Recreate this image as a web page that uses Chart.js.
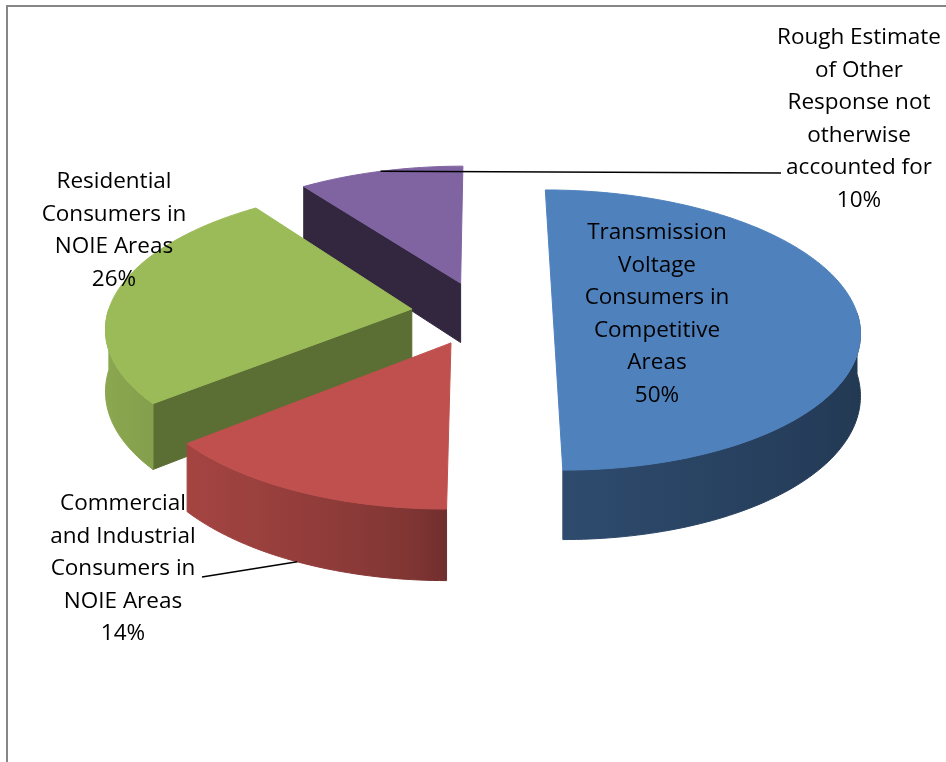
<!DOCTYPE html>
<html>
<head>
<meta charset="utf-8">
<title>Demand response by customer group</title>
<script src="https://cdn.jsdelivr.net/npm/chart.js@4.4.0/dist/chart.umd.min.js"></script>
<style>
    html, body { margin: 0; padding: 0; background: #ffffff; }
    #wrap { width: 946px; height: 762px; }
</style>
</head>
<body>
<div id="wrap"><canvas id="pie" width="946" height="762"></canvas></div>
<script>
'use strict';

// Slices, in drawing order (clockwise from 12 o'clock)
const categories = [
    ['Transmission', 'Voltage', 'Consumers in', 'Competitive', 'Areas'],
    ['Commercial', 'and Industrial', 'Consumers in', 'NOIE Areas'],
    ['Residential', 'Consumers in', 'NOIE Areas'],
    ['Rough Estimate', 'of Other', 'Response not', 'otherwise', 'accounted for']
];
const shares = [50, 14, 26, 10];

// Office 2007 palette
const sliceColors = ['#4F81BD', '#C0504D', '#9BBB59', '#8064A2'];

// label block anchors (centre of first line) and leader line ends
const labelAnchors = [[657, 233], [123, 504], [114, 182], [859, 38]];
const leaderEnds = [null, [202, 577], null, [781, 173]];

const FONT = '22.5px "Open Sans", Lato, sans-serif';
const LINE_H = 32.5;

// 3d look of the pie
const PERSP = 0.0004;   // perspective strength
const TILT = 0.454;     // how flat the disc looks
const DEPTH = 61;       // thickness in px

function project(cx, cy, X, Z, h) {
    const s = 1 / (1 - PERSP * Z);
    return [cx + X * s, cy + (Z * TILT + h * DEPTH) * s];
}

function shade(hex, f) {
    const n = parseInt(hex.slice(1), 16);
    const c = [(n >> 16) & 255, (n >> 8) & 255, n & 255].map(v => Math.round(Math.min(255, v * f)));
    return 'rgb(' + c.join(',') + ')';
}

function sliceGeom(arc, i) {
    const mid = (arc.startAngle + arc.endAngle) / 2;
    const e = arc.options.offset || 0;
    return {
        index: i,
        cx: arc.x, cy: arc.y, r: arc.outerRadius,
        a0: arc.startAngle, a1: arc.endAngle, mid: mid,
        ex: e * Math.cos(mid), ez: e * Math.sin(mid),
        color: arc.options.backgroundColor
    };
}

// point of a slice at angle a, radius fraction t, top (h=0) or bottom (h=1)
function pt(s, a, t, h) {
    const X = s.ex + t * s.r * Math.cos(a);
    const Z = s.ez + t * s.r * Math.sin(a);
    return project(s.cx, s.cy, X, Z, h);
}

function fillPoly(ctx, pts, style) {
    ctx.beginPath();
    pts.forEach((p, k) => k ? ctx.lineTo(p[0], p[1]) : ctx.moveTo(p[0], p[1]));
    ctx.closePath();
    ctx.fillStyle = style;
    ctx.strokeStyle = style;
    ctx.lineWidth = 1;
    ctx.fill();
    ctx.stroke();
}

// brightness of the curved side, lit from the left
function outerLight(a) {
    const nx = Math.cos(a);
    return nx >= 0 ? 0.58 - 0.14 * nx : 0.58 + 0.32 * Math.pow(-nx, 0.6);
}

function drawSlice(ctx, s) {
    const steps = Math.max(8, Math.ceil((s.a1 - s.a0) / 0.02));

    // flat cut faces
    const cut = (a, nx) => {
        fillPoly(ctx, [pt(s, a, 0, 0), pt(s, a, 1, 0), pt(s, a, 1, 1), pt(s, a, 0, 1)],
            shade(s.color, 0.5 + 0.14 * nx));
    };
    if (Math.cos(s.a0) < -0.01) cut(s.a0, Math.sin(s.a0));
    if (Math.cos(s.a1) > 0.01) cut(s.a1, -Math.sin(s.a1));

    // curved side, only the half facing us
    const lo = Math.max(s.a0, 0), hi = Math.min(s.a1, Math.PI);
    if (hi > lo) {
        const n = Math.max(6, Math.ceil((hi - lo) / 0.02));
        const top = [], bot = [];
        for (let k = 0; k <= n; k++) {
            const a = lo + (hi - lo) * k / n;
            top.push(pt(s, a, 1, 0));
            bot.push(pt(s, a, 1, 1));
        }
        const xs = top.map(p => p[0]);
        const x0 = Math.min(...xs), x1 = Math.max(...xs);
        const grad = ctx.createLinearGradient(x0, 0, x1, 0);
        for (let k = 0; k <= n; k += 3) {
            const a = lo + (hi - lo) * k / n;
            grad.addColorStop((top[k][0] - x0) / (x1 - x0 || 1), shade(s.color, outerLight(a)));
        }
        fillPoly(ctx, top.concat(bot.reverse()), grad);
    }

    // top face
    const face = [pt(s, s.a0, 0, 0)];
    for (let k = 0; k <= steps; k++) {
        face.push(pt(s, s.a0 + (s.a1 - s.a0) * k / steps, 1, 0));
    }
    fillPoly(ctx, face, s.color);
}

const pie3d = {
    id: 'pie3d',
    beforeDraw(chart) {
        // chart frame
        const ctx = chart.ctx;
        ctx.save();
        ctx.strokeStyle = '#878787';
        ctx.lineWidth = 2;
        ctx.beginPath();
        ctx.moveTo(7, chart.height);
        ctx.lineTo(7, 6);
        ctx.lineTo(chart.width, 6);
        ctx.stroke();
        ctx.restore();
    },
    beforeDatasetsDraw(chart) {
        const ctx = chart.ctx;
        const arcs = chart.getDatasetMeta(0).data;
        const slices = arcs.map(sliceGeom).sort((a, b) => a.ez - b.ez);
        ctx.save();
        slices.forEach(s => drawSlice(ctx, s));
        ctx.restore();
        return false;
    },
    afterDraw(chart) {
        const ctx = chart.ctx;
        const arcs = chart.getDatasetMeta(0).data;
        const total = shares.reduce((a, b) => a + b, 0);
        ctx.save();

        // leader lines
        ctx.strokeStyle = '#000000';
        ctx.lineWidth = 1.5;
        arcs.forEach((arc, i) => {
            if (!leaderEnds[i]) return;
            const s = sliceGeom(arc, i);
            const from = pt(s, s.mid, 1, Math.sin(s.mid) > 0 ? 1 : 0);
            ctx.beginPath();
            ctx.moveTo(from[0], from[1]);
            ctx.lineTo(leaderEnds[i][0], leaderEnds[i][1]);
            ctx.stroke();
        });

        // data labels: category + percentage
        ctx.font = FONT;
        ctx.fillStyle = '#000000';
        ctx.textAlign = 'center';
        ctx.textBaseline = 'middle';
        categories.forEach((lines, i) => {
            const all = lines.concat([Math.round(shares[i] / total * 100) + '%']);
            const [x, y] = labelAnchors[i];
            all.forEach((t, k) => ctx.fillText(t, x, y + k * LINE_H));
        });
        ctx.restore();
    }
};

const config = {
    type: 'pie',
    data: {
        labels: categories,
        datasets: [{
            data: shares,
            backgroundColor: sliceColors,
            borderWidth: 0,
            offset: 71
        }]
    },
    options: {
        responsive: false,
        animation: false,
        events: [],
        radius: 304,
        layout: {
            padding: { left: 18, top: 0, right: 0, bottom: 136 }
        },
        plugins: {
            legend: { display: false },
            tooltip: { enabled: false }
        }
    },
    plugins: [pie3d]
};

new Chart(document.getElementById('pie'), config);
</script>
</body>
</html>
